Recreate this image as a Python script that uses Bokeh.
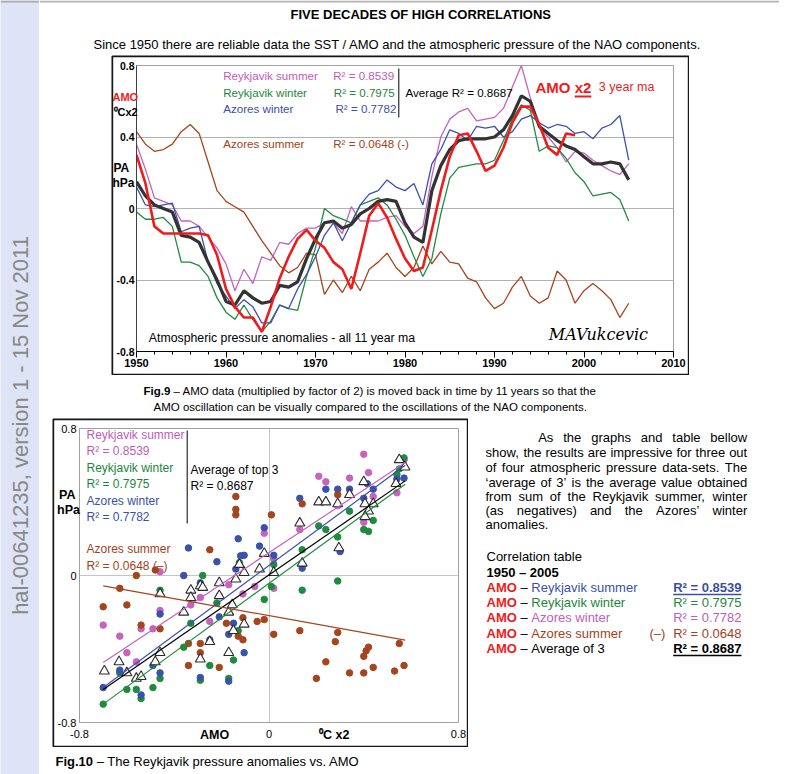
import math
from bokeh.plotting import figure
from bokeh.models import Range1d, FixedTicker, SingleIntervalTicker, Spacer
from bokeh.layouts import row, column
from bokeh.embed import file_html
from bokeh.resources import INLINE
from bokeh.core.properties import value

FONT = "Liberation Sans"

# ---------------- Fig.9 data (11 year ma, hPa) ----------------
years = list(range(1950, 2006))
reykjavik_summer = [0.36, 0.22, 0.06, 0.04, 0.02, -0.07, -0.07, -0.10, -0.16, -0.22,
                    -0.31, -0.46, -0.34, -0.42, -0.27, -0.29, -0.19, -0.20, -0.14, -0.11,
                    -0.11, -0.08, -0.08, -0.14, 0.01, -0.07, -0.07, -0.07, -0.05, -0.04,
                    -0.10, -0.14, -0.10, 0.18, 0.40, 0.50, 0.54, 0.56, 0.49, 0.50,
                    0.51, 0.56, 0.68, 0.80, 0.62, 0.45, 0.40, 0.34, 0.26, 0.32,
                    0.31, 0.27, 0.24, 0.21, 0.19, 0.25]
reykjavik_winter = [-0.02, -0.06, -0.06, -0.05, -0.10, -0.30, -0.30, -0.32, -0.38, -0.50,
                    -0.58, -0.62, -0.54, -0.62, -0.69, -0.63, -0.54, -0.56, -0.57, -0.38,
                    -0.22, 0.00, -0.04, -0.06, -0.08, 0.02, 0.04, 0.06, 0.02, -0.06,
                    -0.15, -0.27, -0.38, -0.28, -0.03, 0.17, 0.23, 0.24, 0.25, 0.25,
                    0.27, 0.38, 0.50, 0.58, 0.55, 0.32, 0.35, 0.34, 0.28, 0.20,
                    0.15, 0.07, 0.08, 0.09, 0.05, -0.07]
azores_winter = [0.12, 0.02, 0.01, 0.02, 0.03, -0.13, -0.11, -0.10, -0.30, -0.42,
                 -0.49, -0.56, -0.51, -0.55, -0.64, -0.64, -0.54, -0.56, -0.45, -0.37,
                 -0.27, -0.15, -0.08, -0.18, -0.08, 0.02, 0.08, 0.10, 0.16, 0.12,
                 0.10, 0.14, 0.02, 0.25, 0.33, 0.44, 0.42, 0.38, 0.46, 0.45,
                 0.46, 0.40, 0.43, 0.50, 0.52, 0.48, 0.45, 0.47, 0.46, 0.42,
                 0.43, 0.39, 0.45, 0.47, 0.52, 0.27]
azores_summer = [0.43, 0.36, 0.32, 0.33, 0.36, 0.43, 0.47, 0.42, 0.26, 0.10,
                 0.04, 0.01, -0.02, -0.10, -0.18, -0.25, -0.32, -0.36, -0.33, -0.25,
                 -0.26, -0.48, -0.40, -0.47, -0.38, -0.46, -0.34, -0.30, -0.25, -0.33,
                 -0.38, -0.33, -0.21, -0.31, -0.24, -0.30, -0.31, -0.39, -0.41, -0.50,
                 -0.56, -0.53, -0.44, -0.38, -0.49, -0.53, -0.50, -0.35, -0.40, -0.53,
                 -0.46, -0.42, -0.46, -0.51, -0.61, -0.53]
average_of_3 = [0.15, 0.07, 0.02, 0.00, -0.02, -0.15, -0.16, -0.19, -0.30, -0.40,
                -0.52, -0.54, -0.46, -0.50, -0.53, -0.52, -0.43, -0.44, -0.41, -0.28,
                -0.17, -0.08, -0.07, -0.11, -0.09, -0.03, 0.00, 0.04, 0.05, 0.04,
                -0.08, -0.16, -0.19, 0.10, 0.24, 0.33, 0.38, 0.39, 0.39, 0.39,
                0.40, 0.44, 0.52, 0.63, 0.60, 0.46, 0.42, 0.38, 0.35, 0.33,
                0.29, 0.25, 0.25, 0.26, 0.25, 0.16]
amo_years = list(range(1950, 2000))
amo_x2 = [0.30, 0.14, -0.10, -0.14, -0.14, -0.14, -0.14, -0.14, -0.15, -0.26,
          -0.45, -0.55, -0.61, -0.61, -0.69, -0.55, -0.39, -0.27, -0.17, -0.12,
          -0.18, -0.22, -0.30, -0.34, -0.45, -0.25, -0.04, 0.03, -0.05, -0.17,
          -0.28, -0.35, -0.33, -0.12, 0.10, 0.29, 0.41, 0.42, 0.32, 0.21,
          0.24, 0.34, 0.48, 0.57, 0.57, 0.47, 0.34, 0.30, 0.42, 0.41]
r2_labels = ["R² = 0.8539", "R² = 0.7975", "R² = 0.7782", "R² = 0.0648 (-)"]
avg_r2_label = "Average R² = 0.8687"

# ---------------- Fig.10 data (AMO x2 vs pressure anomaly) ----------------
sc_rs_x = [-0.70, -0.63, -0.60, -0.56, -0.54, -0.49, -0.46, -0.46, -0.33, -0.29, -0.25, -0.21, -0.17, -0.11, -0.06,
           -0.02, 0.02, 0.02, 0.13, 0.21, 0.24, 0.29, 0.34, 0.40, 0.40, 0.42, 0.44, 0.54, 0.57]
sc_rs_y = [-0.27, -0.33, -0.42, -0.47, -0.29, -0.29, -0.19, 0.02, -0.16, -0.12, -0.25, -0.11, -0.05, -0.10, -0.06,
           0.23, 0.09, -0.07, 0.25, 0.54, 0.51, 0.38, 0.53, 0.66, 0.29, 0.56, 0.43, 0.45, 0.63]
sc_rw_x = [-0.70, -0.63, -0.60, -0.56, -0.54, -0.49, -0.46, -0.46, -0.36, -0.33, -0.29, -0.28, -0.25, -0.22, -0.17,
           -0.15, -0.13, -0.125, -0.02, 0.01, 0.02, 0.14, 0.14, 0.21, 0.24, 0.29, 0.29, 0.34, 0.40, 0.42,
           0.44, 0.54, 0.55, 0.57]
sc_rw_y = [-0.70, -0.53, -0.62, -0.62, -0.67, -0.61, -0.56, -0.08, -0.39, -0.26, -0.57, 0.00, -0.49, -0.15, -0.56,
           -0.46, -0.30, 0.07, -0.13, -0.06, 0.06, -0.08, 0.14, 0.27, 0.25, 0.21, -0.03, 0.35, 0.25, 0.24,
           0.30, 0.55, 0.58, 0.64]
sc_aw_x = [-0.70, -0.63, -0.54, -0.49, -0.46, -0.46, -0.36, -0.34, -0.29, -0.29, -0.25, -0.22, -0.21, -0.17, -0.17,
           -0.15, -0.14, -0.13, -0.12, -0.105, -0.105, -0.04, -0.02, 0.02, 0.13, 0.14, 0.24, 0.29, 0.30, 0.34,
           0.40, 0.415, 0.44, 0.54, 0.57]
sc_aw_y = [-0.61, -0.515, -0.65, -0.49, -0.21, -0.53, 0.00, 0.15, -0.04, -0.555, -0.35, 0.075, -0.225, -0.32, -0.575,
           -0.26, 0.035, 0.20, 0.107, 0.11, -0.42, 0.16, 0.26, 0.11, 0.42, 0.04, 0.47, 0.47, 0.13, 0.47,
           0.42, 0.50, 0.47, 0.525, 0.53]
sc_as_x = [-0.70, -0.63, -0.60, -0.56, -0.54, -0.48, -0.46, -0.34, -0.34, -0.29, -0.29, -0.25, -0.21, -0.18, -0.14,
           -0.14, -0.14, -0.13, -0.11, -0.11, -0.05, -0.02, 0.01, 0.02, 0.13, 0.14, 0.20, 0.24, 0.28, 0.29,
           0.29, 0.34, 0.40, 0.40, 0.41, 0.42, 0.44, 0.53, 0.55, 0.57]
sc_as_y = [-0.17, -0.07, -0.16, 0.00, -0.27, 0.03, -0.29, -0.37, -0.49, -0.37, -0.42, 0.14, -0.50, -0.26, 0.43,
           0.36, 0.33, -0.33, -0.35, -0.23, -0.25, -0.24, 0.33, -0.32, -0.30, 0.39, -0.56, -0.47, -0.36, -0.31,
           0.44, -0.53, -0.44, -0.53, -0.41, -0.39, -0.50, -0.52, -0.37, -0.49]
sc_avg_x = [-0.695, -0.633, -0.60, -0.56, -0.54, -0.48, -0.46, -0.46, -0.36, -0.33, -0.33, -0.29, -0.28, -0.29, -0.25,
            -0.21, -0.21, -0.17, -0.17, -0.15, -0.14, -0.155, -0.125, -0.105, -0.105, -0.04, -0.02, 0.02, 0.13, 0.14,
            0.21, 0.24, 0.29, 0.295, 0.34, 0.40, 0.405, 0.44, 0.42, 0.405, 0.536, 0.55, 0.574]
sc_avg_y = [-0.52, -0.47, -0.53, -0.56, -0.55, -0.47, -0.10, -0.42, -0.20, -0.08, -0.12, -0.056, -0.065, -0.455, -0.36,
            -0.04, -0.11, -0.42, -0.20, -0.30, -0.02, -0.16, 0.06, 0.016, -0.265, 0.035, 0.12, 0.016, 0.285, 0.067,
            0.40, 0.40, 0.39, 0.15, 0.44, 0.51, 0.39, 0.39, 0.35, 0.32, 0.50, 0.63, 0.59]
trend_x = [-0.70, 0.575]
trend_rs = [-0.473, 0.615]
trend_aw = [-0.61, 0.60]
trend_avg = [-0.62, 0.515]
trend_rw = [-0.70, 0.497]
trend_as = [-0.056, -0.352]

# correlation table
table_names = ["Reykjavik summer", "Reykjavik winter", "Azores winter", "Azores summer", "Average of 3"]
table_r2 = ["R² = 0.8539", "R² = 0.7975", "R² = 0.7782", "R² = 0.0648", "R² = 0.8687"]

# ---------------- styling ----------------
PINK = "#c664bd"
GREEN = "#1f8b3e"
BLUE = "#3a52ac"
BROWN = "#a5451d"
RED = "#ee1c1c"
DARK = "#333333"
TPINK = "#c25cb8"
TGREEN = "#1c873a"
TBLUE = "#3b4fa6"
TBROWN = "#a3421a"

REG = {191: "'", 222: "ijl‘’", 278: " ,./:;!ftI", 333: "()-r²⁰", 500: "ckvxyzsJ",
       556: "0123456789abdeghnopqu–L?", 584: "=+", 611: "FTZ", 667: "ABEKPSVXY",
       722: "CDHNRUw", 778: "GOQ", 833: "Mm", 944: "W"}
BOLD = {238: "'", 278: " ,./:;!ijlI", 333: "()-ft²⁰", 389: "r", 500: "z",
        556: "0123456789acekvsxyJ–", 584: "=+", 611: "bdghnopquFLTZ", 667: "EPSVXY",
        722: "ABCDHKNRU", 778: "GOQw", 833: "M", 889: "m", 944: "W"}
W_REG = {c: w for w, cs in REG.items() for c in cs}
W_BOLD = {c: w for w, cs in BOLD.items() for c in cs}


def tw(s, size, bold=False):
    t = W_BOLD if bold else W_REG
    return sum(t.get(c, 556) for c in s) * size / 1000.0


def put(p, x, y, s, size, color="#000000", style="normal", align="left", font=FONT, angle=0.0, level="glyph"):
    p.text(x=[x], y=[y], text=[s], text_font=value(font), text_font_size=f"{size}px",
           text_color=color, text_font_style=style, text_align=align,
           text_baseline="middle", angle=angle, level=level)


def put_runs(p, x, y, parts, size):
    # SVG drops leading blanks, so advance the pen over them instead
    for s, color, bold in parts:
        lead = len(s) - len(s.lstrip(" "))
        x += tw(" " * lead, size, bold)
        body = s.lstrip(" ")
        if body.strip():
            put(p, x, y, body.rstrip(" "), size, color, "bold" if bold else "normal")
        x += tw(body, size, bold)
    return x


def strip(w, h, bg="white"):
    return figure(width=w, height=h, x_range=Range1d(0, w), y_range=Range1d(h, 0),
                  x_axis_type=None, y_axis_type=None, toolbar_location=None,
                  output_backend="svg", min_border_left=0, min_border_right=0,
                  min_border_top=0, min_border_bottom=0, outline_line_color=None,
                  background_fill_color=bg, border_fill_color=bg)


def frame_box(p, conv, x0, y0, w, h, lw=1.7):
    # black box drawn round the whole figure canvas (overlay level, not clipped)
    a = lw / 2.0
    l, t = conv(x0 + a, y0 + a)
    r, b = conv(x0 + w - a, y0 + h - a)
    p.quad(left=[l], right=[r], top=[t], bottom=[b], fill_alpha=0, line_color="#151515",
           line_width=lw, level="overlay")


# ---------------- sidebar (page x 0-39) ----------------
side = strip(39, 774, bg="#dee4f5")
side.segment(x0=[0], y0=[1], x1=[39], y1=[1], line_color="#a9a9b4", line_width=2)
put(side, 20, 425, "hal-00641235, version 1 - 15 Nov 2011", 22, "#888888", angle=math.pi / 2, align="center")

# ---------------- title strip (origin 39, 0) ----------------
top = strip(740, 55)
top.segment(x0=[0], y0=[1], x1=[740], y1=[1], line_color="#b4b4b4", line_width=2)
put(top, 290 - 39, 14, "FIVE DECADES OF HIGH CORRELATIONS", 13, "#000000", "bold")
put(top, 93 - 39, 44,
    "Since 1950 there are reliable data the SST / AMO and the atmospheric pressure of  the NAO components.",
    13, "#000000")

# ---------------- Fig.9 (figure at 111, 55; 578 x 320) ----------------
p9 = figure(width=578, height=320, x_range=Range1d(1950, 2010), y_range=Range1d(-0.8, 0.8),
            toolbar_location=None, output_backend="svg",
            min_border_left=25, min_border_right=16, min_border_top=10, min_border_bottom=24,
            outline_line_color="#a0a0a0", background_fill_color="white", border_fill_color="white")


def c9(px, py):
    return 1950 + (px - 136) * 60.0 / 537, 0.8 - (py - 65) * 1.6 / 286


p9.xaxis.ticker = SingleIntervalTicker(interval=10, num_minor_ticks=5)
p9.xaxis.axis_line_color = "#000000"
p9.xaxis.major_tick_out = 6
p9.xaxis.major_tick_in = 0
p9.xaxis.minor_tick_out = 3
p9.xaxis.minor_tick_in = 0
p9.xaxis.major_tick_line_color = "#000000"
p9.xaxis.minor_tick_line_color = "#000000"
p9.xaxis.major_label_standoff = 1
p9.xaxis.major_label_text_font = FONT
p9.xaxis.major_label_text_font_size = "11px"
p9.xaxis.major_label_text_font_style = "bold"
p9.xaxis.major_label_text_color = "#000000"
p9.yaxis.ticker = FixedTicker(ticks=[-0.8, -0.4, 0, 0.4, 0.8])
p9.yaxis.major_label_overrides = {-0.8: "-0.8", -0.4: "-0.4", 0: "0", 0.4: "0.4", 0.8: "0.8"}
p9.yaxis.axis_line_color = "#404040"
p9.yaxis.major_tick_out = 0
p9.yaxis.major_tick_in = 0
p9.yaxis.minor_tick_out = 0
p9.yaxis.minor_tick_in = 0
p9.yaxis.major_label_standoff = 2
p9.yaxis.major_label_text_font = FONT
p9.yaxis.major_label_text_font_size = "10.5px"
p9.yaxis.major_label_text_font_style = "bold"
p9.yaxis.major_label_text_color = "#000000"
p9.xgrid.visible = False
p9.ygrid.ticker = FixedTicker(ticks=[-0.4, 0, 0.4])
p9.ygrid.grid_line_color = "#b2b2b2"

p9.line(years, azores_summer, line_color=BROWN, line_width=1.3)
p9.line(years, reykjavik_summer, line_color=PINK, line_width=1.3)
p9.line(years, reykjavik_winter, line_color=GREEN, line_width=1.3)
p9.line(years, azores_winter, line_color=BLUE, line_width=1.3)
p9.line(years, average_of_3, line_color=DARK, line_width=3.2)
p9.line(amo_years, amo_x2, line_color=RED, line_width=2.6)
frame_box(p9, c9, 111, 55, 578, 320)


def t9(px, py, s, size, color, style="normal", font=FONT, level="glyph"):
    x, y = c9(px, py)
    put(p9, x, y, s, size, color, style, font=font, level=level)


LS = 11.6
t9(222.7, 75, "Reykjavik summer", LS, TPINK)
t9(332.7, 75, r2_labels[0], LS, TPINK)
t9(222.7, 91.7, "Reykjavik winter", LS, TGREEN)
t9(333.3, 91.7, r2_labels[1], LS, TGREEN)
t9(222.7, 108.3, "Azores winter", LS, TBLUE)
t9(335, 108.3, r2_labels[2], LS, TBLUE)
t9(222.7, 142.7, "Azores summer", LS, TBROWN)
t9(332.7, 142.7, r2_labels[3], LS, TBROWN)
t9(405, 91.7, avg_r2_label, LS, "#000000")
vx0, vy0 = c9(398.3, 68)
vx1, vy1 = c9(398.3, 117)
p9.segment(x0=[vx0], y0=[vy0], x1=[vx1], y1=[vy1], line_color="#000000", line_width=1)
t9(535, 87.3, "AMO x2", 15, RED, "bold")
ux0, uy = c9(535 + tw("AMO ", 15, True), 96)
ux1, _ = c9(535 + tw("AMO x2", 15, True), 96)
p9.segment(x0=[ux0], y0=[uy], x1=[ux1], y1=[uy], line_color=RED, line_width=2)
t9(598.3, 86, "3 year ma", 12.5, RED)
t9(148.3, 337.7, "Atmospheric pressure anomalies - all 11 year ma", 12.3, "#000000")
t9(548.3, 334, "MAVukcevic", 16, "#000000", "italic", font="DejaVu Serif")
# unit labels left of the plot area (overlay level so they are not clipped)
t9(112, 96, "AMO", 11, RED, "bold", level="overlay")
t9(113, 111, "⁰Cx2", 11, "#000000", "bold", level="overlay")
t9(113, 167, "PA", 12, "#000000", "bold", level="overlay")
t9(112, 182, "hPa", 12, "#000000", "bold", level="overlay")

# ---------------- caption 9 (origin 39, 375) ----------------
cap9 = strip(740, 43)
put_runs(cap9, 143 - 39, 15,
         [("Fig.9", "#000000", True),
          (" – AMO data (multiplied by factor of 2) is moved back in time by 11 years so that the", "#000000", False)],
         11.5)
put(cap9, 153 - 39, 31,
    "AMO oscillation can be visually compared to the oscillations of the NAO components.", 11.5, "#000000")

# ---------------- Fig.10 (figure at 52, 418; 416 x 329) ----------------
p10 = figure(width=416, height=329, x_range=Range1d(-0.8, 0.8), y_range=Range1d(-0.8, 0.8),
             toolbar_location=None, output_backend="svg",
             min_border_left=27, min_border_right=10, min_border_top=10, min_border_bottom=25,
             outline_line_color="#a0a0a0", background_fill_color="white", border_fill_color="white")


def c10(px, py):
    return -0.8 + (px - 79) * 1.6 / 379, 0.8 - (py - 428) * 1.6 / 294


for ax in (p10.xaxis, p10.yaxis):
    ax.ticker = FixedTicker(ticks=[-0.8, 0, 0.8])
    ax.major_label_overrides = {-0.8: "-0.8", 0: "0", 0.8: "0.8"}
    ax.axis_line_color = "#a0a0a0"
    ax.major_tick_out = 0
    ax.major_tick_in = 0
    ax.minor_tick_out = 0
    ax.minor_tick_in = 0
    ax.major_label_text_font = FONT
    ax.major_label_text_font_size = "11px"
    ax.major_label_text_color = "#000000"
p10.xaxis.major_label_standoff = 7
p10.yaxis.major_label_standoff = 3
p10.xgrid.ticker = FixedTicker(ticks=[0])
p10.ygrid.ticker = FixedTicker(ticks=[0])
p10.grid.grid_line_color = "#c4c4c4"

DOT = 6.5
p10.scatter(sc_rs_x, sc_rs_y, marker="circle", size=DOT, color=PINK)
p10.scatter(sc_rw_x, sc_rw_y, marker="circle", size=DOT, color=GREEN)
p10.scatter(sc_aw_x, sc_aw_y, marker="circle", size=DOT, color=BLUE)
p10.scatter(sc_as_x, sc_as_y, marker="circle", size=DOT, color=BROWN)
p10.scatter(sc_avg_x, sc_avg_y, marker="triangle", size=10, fill_color="white",
            line_color="#2a2a2a", line_width=1.1)
p10.line(trend_x, trend_rs, line_color=PINK, line_width=1.2)
p10.line(trend_x, trend_aw, line_color=BLUE, line_width=1.2)
p10.line(trend_x, trend_avg, line_color="#000000", line_width=1.2)
p10.line(trend_x, trend_rw, line_color=GREEN, line_width=1.2)
p10.line(trend_x, trend_as, line_color=BROWN, line_width=1.2)
frame_box(p10, c10, 52, 418, 416, 329)


def t10(px, py, s, size, color, style="normal", level="glyph"):
    x, y = c10(px, py)
    put(p10, x, y, s, size, color, style, level=level)


FS = 12
t10(86, 434, "Reykjavik summer", FS, TPINK)
t10(86, 450.7, "R² = 0.8539", FS, TPINK)
t10(86, 467.3, "Reykjavik winter", FS, TGREEN)
t10(86, 483.3, "R² = 0.7975", FS, TGREEN)
t10(86, 500, "Azores winter", FS, TBLUE)
t10(86, 516, "R² = 0.7782", FS, TBLUE)
t10(190, 469, "Average of  top 3", FS, "#000000")
t10(190, 485, "R² = 0.8687", FS, "#000000")
t10(86, 548.3, "Azores summer", FS, TBROWN)
t10(86, 565.7, "R² = 0.0648 (–)", FS, TBROWN)
bx0, by0 = c10(186.7, 430)
bx1, by1 = c10(186.7, 523)
p10.segment(x0=[bx0], y0=[by0], x1=[bx1], y1=[by1], line_color="#000000", line_width=1)
t10(58.5, 494, "PA", 12.5, "#000000", "bold", level="overlay")
t10(56.5, 509, "hPa", 12.5, "#000000", "bold", level="overlay")
t10(199.5, 734, "AMO", 12.5, "#000000", "bold", level="overlay")
t10(318.5, 734, "⁰C x2", 12.5, "#000000", "bold", level="overlay")

# ---------------- right text (origin 468, 418) ----------------
rt = strip(311, 329)
OX, OY = 468, 418
para = ["As the graphs and table bellow",
        "show, the results are impressive for three out",
        "of four atmospheric pressure data-sets. The",
        "‘average of 3’ is the average value obtained",
        "from sum of the Reykjavik summer, winter",
        "(as negatives) and the Azores’ winter",
        "anomalies."]
para_y = [437, 452, 467, 482, 496, 510, 524]
PS = 13
RIGHT = 746.7
for i, line in enumerate(para):
    x0 = 537.7 if i == 0 else 485
    words = line.split(" ")
    if i == len(para) - 1:
        put(rt, x0 - OX, para_y[i] - OY, line, PS)
        continue
    total = sum(tw(w, PS) for w in words)
    gap = (RIGHT - x0 - total) / (len(words) - 1)
    x = x0
    for w in words:
        put(rt, x - OX, para_y[i] - OY, w, PS)
        x += tw(w, PS) + gap

put(rt, 486 - OX, 556 - OY, "Correlation table", PS)
put(rt, 486 - OX, 571.5 - OY, "1950 – 2005", PS, style="bold")
row_y = [587, 602, 617, 633, 648]
name_cols = [TBLUE, TGREEN, TPINK, TBROWN, "#000000"]
r2_bold = [True, False, False, False, True]
for i in range(5):
    yy = row_y[i] - OY
    put_runs(rt, 486 - OX, yy, [("AMO", RED, True), (" – ", "#000000", False),
                                (table_names[i], name_cols[i], False)], PS)
    put(rt, 672.7 - OX, yy, table_r2[i], PS, name_cols[i], "bold" if r2_bold[i] else "normal")
    if r2_bold[i]:
        w = tw(table_r2[i], PS, True)
        rt.segment(x0=[672.7 - OX], y0=[yy + 7], x1=[672.7 - OX + w], y1=[yy + 7],
                   line_color=name_cols[i], line_width=1.3)
put(rt, 649 - OX, row_y[3] - OY, "(–)", PS, TBROWN)

# ---------------- caption 10 (origin 39, 747) ----------------
cap10 = strip(740, 27)
put_runs(cap10, 55 - 39, 14,
         [("Fig.10", "#000000", True), (" – The Reykjavik pressure anomalies vs. AMO", "#000000", False)], 13)

# each chart sits in its own column so that Bokeh does not align its frame with neighbours
main = column(top,
              row(Spacer(width=72, height=320), column(p9)),
              cap9,
              row(Spacer(width=13, height=329), column(p10), column(rt)),
              cap10)
page = row(side, main)

open("out.html", "w").write(file_html(page, INLINE))
